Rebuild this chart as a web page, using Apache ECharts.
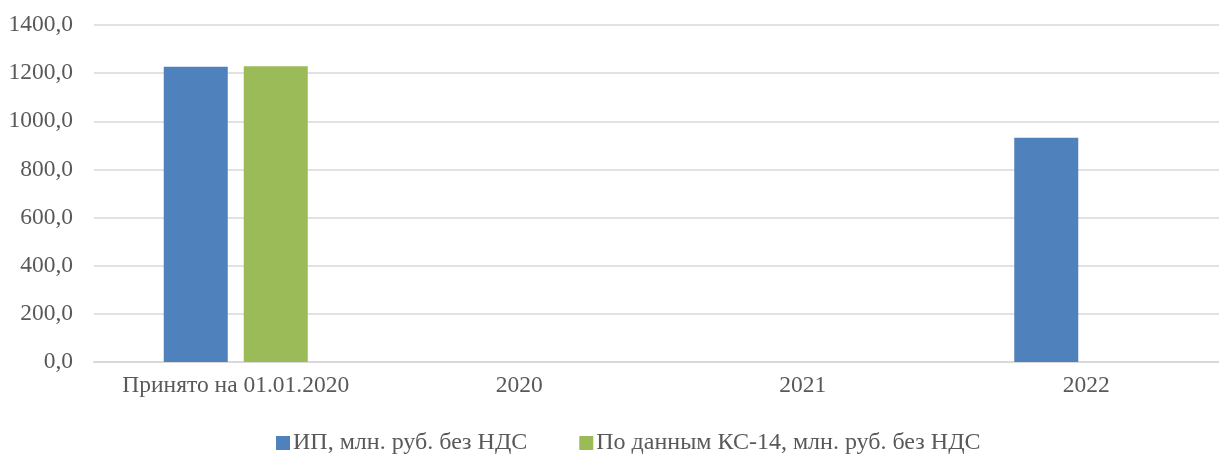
<!DOCTYPE html>
<html>
<head>
<meta charset="utf-8">
<script src="https://cdn.jsdelivr.net/npm/echarts@6/dist/echarts.min.js"></script>
<style>
html,body{margin:0;padding:0;background:#fff;overflow:hidden;}
#chart{width:1228px;height:455px;}
</style>
</head>
<body>
<div id="chart"></div>
<script>
const categories = ["Принято на 01.01.2020", "2020", "2021", "2022"];
const seriesNames = ["ИП, млн. руб. без НДС", "По данным КС-14, млн. руб. без НДС"];
const ipValues = [1227, 0, 0, 932];
const ks14Values = [1229, 0, 0, 0];
const yTicks = [0, 200, 400, 600, 800, 1000, 1200, 1400];

const chart = echarts.init(document.getElementById('chart'));
const font = '"Liberation Serif", "Times New Roman", serif';
chart.setOption({
  animation: false,
  textStyle: { fontFamily: font },
  grid: { left: 94, top: 25, right: 0, bottom: 93, containLabel: false },
  legend: {
    data: seriesNames,
    left: 276,
    top: 431,
    padding: 0,
    itemWidth: 14,
    itemHeight: 14,
    itemGap: 52,
    icon: 'rect',
    textStyle: { fontFamily: font, fontSize: 24, color: '#595959', padding: [0, 0, 0, -2] }
  },
  xAxis: {
    type: 'category',
    data: categories,
    axisTick: { show: false },
    axisLine: { lineStyle: { color: '#d9d9d9', width: 2 } },
    axisLabel: { fontFamily: font, fontSize: 23.5, color: '#595959', margin: 12, interval: 0, hideOverlap: false }
  },
  yAxis: {
    type: 'value',
    min: yTicks[0],
    max: yTicks[yTicks.length - 1],
    interval: 200,
    axisLine: { show: false },
    axisTick: { show: false },
    splitLine: { lineStyle: { color: '#d9d9d9', width: 1.5 } },
    axisLabel: {
      fontFamily: font, fontSize: 23.5, color: '#595959', margin: 21,
      formatter: v => v.toFixed(1).replace('.', ',')
    }
  },
  series: [
    { name: seriesNames[0], type: 'bar', data: ipValues, barWidth: 64, barGap: '25%',
      itemStyle: { color: '#4f81bd' } },
    { name: seriesNames[1], type: 'bar', data: ks14Values, barWidth: 64,
      itemStyle: { color: '#9bbb59' } }
  ]
});
</script>
</body>
</html>
